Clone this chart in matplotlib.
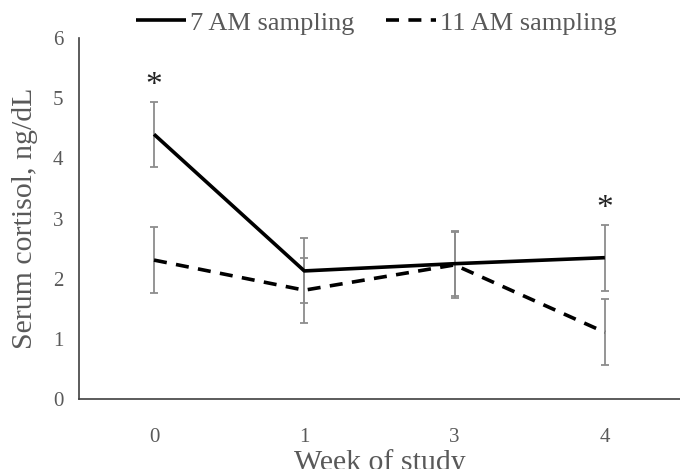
import matplotlib.pyplot as plt
import numpy as np

plt.rcParams['font.family'] = ['Liberation Serif', 'DejaVu Serif']

weeks = ['0', '1', '3', '4']
am7 = [4.40, 2.13, 2.25, 2.35]
am7_err = [0.54, 0.54, 0.54, 0.55]
am11 = [2.31, 1.81, 2.23, 1.11]
am11_err = [0.55, 0.54, 0.55, 0.55]
stars = [0, 3]

grey = '#595959'
x = np.arange(len(weeks))

fig = plt.figure(figsize=(6.8, 4.69), dpi=100)
ax = fig.add_axes([0.116, 0.149, 0.884, 0.77])

# error bars first so the lines sit on top
ax.errorbar(x, am7, yerr=am7_err, fmt='none', ecolor='#8c8c8c', elinewidth=1.3, capsize=2.8, capthick=1.3)
ax.errorbar(x, am11, yerr=am11_err, fmt='none', ecolor='#8c8c8c', elinewidth=1.3, capsize=2.8, capthick=1.3)

ax.plot(x, am7, color='black', lw=2.6, label='7 AM sampling', solid_capstyle='butt')
ax.plot(x, am11, color='black', lw=2.6, ls=(0, (3.6, 2.6)), label='11 AM sampling')

for i in stars:
    top = am7[i] + am7_err[i]
    ax.text(x[i], top + 0.26, '*', ha='center', va='center', fontsize=24, color='#222222')

ax.set_xlim(-0.5, len(weeks) - 0.5)
ax.set_ylim(0, 6)
ax.set_xticks(x)
ax.set_xticklabels(weeks)
ax.set_yticks(range(7))
ax.tick_params(axis='both', length=0, labelsize=15, colors=grey)
ax.tick_params(axis='x', pad=21)
ax.tick_params(axis='y', pad=11)

for s in ['top', 'right']:
    ax.spines[s].set_visible(False)
for s in ['left', 'bottom']:
    ax.spines[s].set_color('#404040')
    ax.spines[s].set_linewidth(1.2)

ax.set_xlabel('Week of study', fontsize=21.5, color=grey, labelpad=1)
ax.set_ylabel('Serum cortisol, ng/dL', fontsize=21.5, color=grey, labelpad=11)

leg = fig.legend(loc='center', bbox_to_anchor=(0.553, 0.951), ncol=2, frameon=False,
                 fontsize=19, handlelength=1.9, handletextpad=0.15, columnspacing=1.2)
for t in leg.get_texts():
    t.set_color(grey)

fig.savefig('out.png', dpi=100)
